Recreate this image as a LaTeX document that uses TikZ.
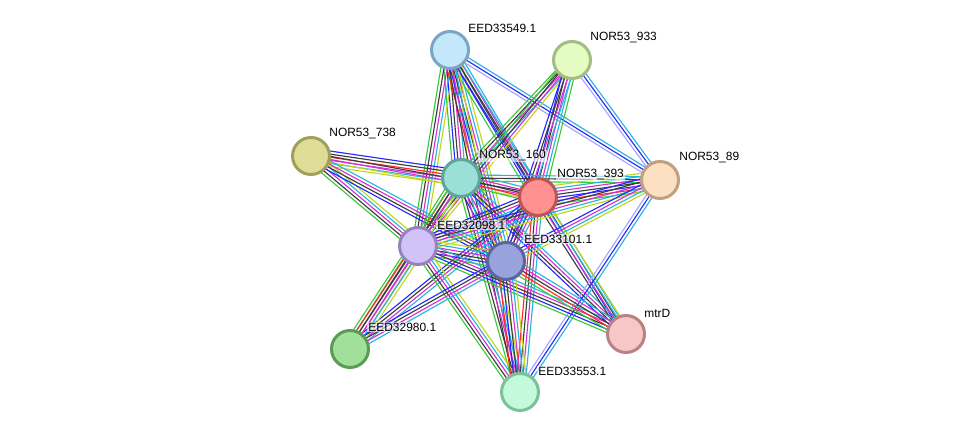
\documentclass[tikz,border=0pt]{standalone}
\usepackage{fontspec}
\setmainfont{Liberation Sans}
\usetikzlibrary{calc}

\definecolor{nbcol}{RGB}{60,200,60}
\definecolor{fucol}{RGB}{255,40,40}
\definecolor{occol}{RGB}{40,40,255}
\definecolor{cxcol}{RGB}{60,60,60}
\definecolor{excol}{RGB}{210,50,210}
\definecolor{dbcol}{RGB}{40,180,220}
\definecolor{tmcol}{RGB}{190,215,30}
\definecolor{hocol}{RGB}{165,165,255}

\pgfdeclarelayer{bg}
\pgfsetlayers{bg,main}

% one protein-protein link = several thin parallel lines
\newcommand\ppiedge[3]{%
  \foreach \col [count=\n] in {#3} {\xdef\nlines{\n}}
  \begin{pgfonlayer}{bg}
  \foreach \col [count=\i] in {#3} {
    \pgfmathsetmacro\off{(\i-(\nlines+1)/2)*1.75}
    \draw[line, \col] ($(#1.center)!\off pt!90:(#2.center)$) -- ($(#2.center)!\off pt!-90:(#1.center)$);
  }
  \end{pgfonlayer}}

\begin{document}
\begin{tikzpicture}[x=0.02cm,y=-0.02cm]
			\tikzstyle{protein} = [
				circle, draw, line width = 1.7pt,
				inner sep = 0pt, minimum size = 0.74cm
			]
			\tikzstyle{lbl}=[anchor=west, fill=white, fill opacity=0.6, text opacity=1,
				inner sep=0.6pt, font=\fontsize{6.8}{8}\selectfont]
			\tikzstyle{line}=[-,line width=0.65pt]
			\tikzset{nb/.style={nbcol}, fu/.style={fucol}, oc/.style={occol}, cx/.style={cxcol},
				ex/.style={excol}, db/.style={dbcol}, tm/.style={tmcol}, ho/.style={hocol}}
			\useasboundingbox (0,0) rectangle (976,438);

			\node[protein, draw={rgb,255:red,125;green,165;blue,195}, fill={rgb,255:red,195;green,232;blue,252}] (e549) at (450,50) {};
			\node[protein, draw={rgb,255:red,165;green,188;blue,128}, fill={rgb,255:red,226;green,252;blue,194}] (n933) at (572,60) {};
			\node[protein, draw={rgb,255:red,160;green,160;blue,90}, fill={rgb,255:red,222;green,220;blue,150}] (n738) at (311,156) {};
			\node[protein, draw={rgb,255:red,95;green,165;blue,158}, fill={rgb,255:red,155;green,224;blue,214}] (n160) at (461,178) {};
			\node[protein, draw={rgb,255:red,190;green,85;blue,85}, fill={rgb,255:red,255;green,145;blue,145}] (n393) at (538,197) {};
			\node[protein, draw={rgb,255:red,192;green,160;blue,128}, fill={rgb,255:red,253;green,224;blue,193}] (n89) at (660,180) {};
			\node[protein, draw={rgb,255:red,152;green,130;blue,190}, fill={rgb,255:red,210;green,194;blue,250}] (e098) at (418,246) {};
			\node[protein, draw={rgb,255:red,92;green,100;blue,160}, fill={rgb,255:red,152;green,162;blue,220}] (e101) at (506,261) {};
			\node[protein, draw={rgb,255:red,185;green,130;blue,130}, fill={rgb,255:red,247;green,199;blue,199}] (mtrd) at (626,334) {};
			\node[protein, draw={rgb,255:red,92;green,155;blue,86}, fill={rgb,255:red,160;green,224;blue,152}] (e980) at (350,349) {};
			\node[protein, draw={rgb,255:red,126;green,192;blue,154}, fill={rgb,255:red,194;green,250;blue,218}] (e553) at (520,392) {};

			\node[lbl] (l549) at ($(e549)+(17,-22)$) {EED33549.1};
			\node[lbl] (l933) at ($(n933)+(17,-22)$) {NOR53\_933};
			\node[lbl] (l738) at ($(n738)+(17,-22)$) {NOR53\_738};
			\node[lbl] (l160) at ($(n160)+(17,-22)$) {NOR53\_160};
			\node[lbl] (l393) at ($(n393)+(18,-22)$) {NOR53\_393};
			\node[lbl] (l89) at ($(n89)+(18,-22)$) {NOR53\_89};
			\node[lbl] (l098) at ($(e098)+(18,-21)$) {EED32098.1};
			\node[lbl] (l101) at ($(e101)+(17,-22)$) {EED33101.1};
			\node[lbl] (lmtr) at ($(mtrd)+(17,-21)$) {mtrD};
			\node[lbl] (l980) at ($(e980)+(17,-22)$) {EED32980.1};
			\node[lbl] (l553) at ($(e553)+(17,-21)$) {EED33553.1};

			\ppiedge{e549}{n160}{nb,oc,cx,ex,db,tm}
			\ppiedge{e549}{e098}{nb,cx,ex,db,tm}
			\ppiedge{e549}{e101}{fu,oc,cx,ex,db,tm}
			\ppiedge{e549}{n393}{nb,oc,cx,ex,db}
			\ppiedge{e549}{e553}{cx,ex,db,tm}
			\ppiedge{e549}{mtrd}{oc,cx,db}
			\ppiedge{e549}{n89}{ho,oc,db}
			\ppiedge{n933}{n160}{nb,cx,ex,db}
			\ppiedge{n933}{e098}{nb,cx,ex,tm}
			\ppiedge{n933}{n393}{oc,cx,ex,db,nb}
			\ppiedge{n933}{e101}{oc,cx,ex,db}
			\ppiedge{n933}{n89}{ho,oc,db}
			\ppiedge{n738}{n160}{tm,db,ex,fu,cx,oc}
			\ppiedge{n738}{n393}{tm,ex,cx}
			\ppiedge{n738}{e098}{nb,cx,ex,db,tm}
			\ppiedge{n738}{e101}{oc,cx,ex,db}
			\ppiedge{n160}{n393}{nb,fu,cx,ex,db}
			\ppiedge{n160}{e098}{nb,fu,cx,ex,db,tm}
			\ppiedge{n160}{e101}{oc,cx,ex,db,tm}
			\ppiedge{n160}{e553}{nb,cx,ex,db}
			\ppiedge{n160}{mtrd}{oc,cx,ex,db}
			\ppiedge{n160}{e980}{nb,cx,ex,tm}
			\ppiedge{n160}{n89}{nb,cx,db}
			\ppiedge{n393}{n89}{nb,fu,oc,cx,ex,db,tm}
			\ppiedge{n393}{e098}{oc,cx,ex,db,tm}
			\ppiedge{n393}{e101}{oc,cx,ex,db}
			\ppiedge{n393}{mtrd}{cx,ex,db,tm}
			\ppiedge{n393}{e553}{fu,cx,ex,db}
			\ppiedge{n393}{e980}{oc,cx,ex,db}
			\ppiedge{n89}{e098}{oc,cx,ex,db,tm}
			\ppiedge{n89}{e101}{oc,ex,db,tm}
			\ppiedge{n89}{e553}{ho,oc,db}
			\ppiedge{e098}{e101}{nb,oc,cx,ex,db,tm}
			\ppiedge{e098}{mtrd}{nb,oc,cx,ex,db}
			\ppiedge{e098}{e980}{nb,fu,cx,ex,db,tm}
			\ppiedge{e098}{e553}{nb,cx,ex,db,tm}
			\ppiedge{e101}{mtrd}{nb,fu,cx,ex,db}
			\ppiedge{e101}{e980}{oc,cx,ex,db}
			\ppiedge{e101}{e553}{fu,oc,cx,ex,db,tm}
		\end{tikzpicture}
\end{document}
